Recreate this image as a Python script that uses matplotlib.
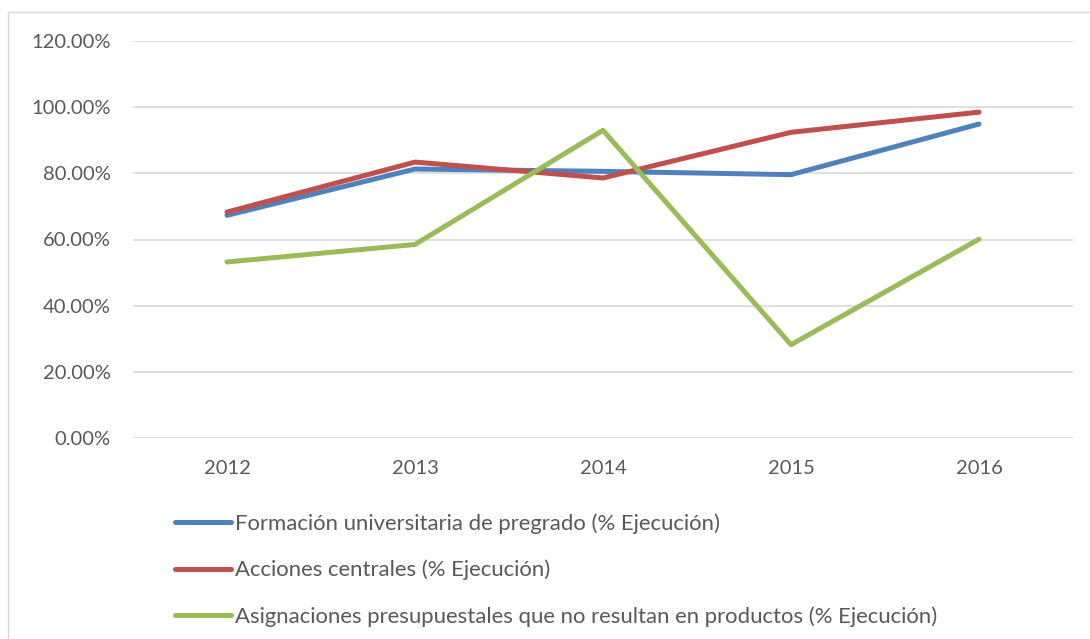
import matplotlib
matplotlib.use("Agg")
import matplotlib.pyplot as plt
from matplotlib.patches import Rectangle
from matplotlib.ticker import FuncFormatter, MultipleLocator

years = ["2012", "2013", "2014", "2015", "2016"]
formacion = [67.3, 81.3, 80.6, 79.6, 94.9]
acciones = [68.3, 83.4, 78.6, 92.4, 98.5]
asignaciones = [53.2, 58.5, 93.0, 28.2, 60.1]

labels = [
    "Formación universitaria de pregrado (% Ejecución)",
    "Acciones centrales (% Ejecución)",
    "Asignaciones presupuestales que no resultan en productos (% Ejecución)",
]
colors = ["#4F81BD", "#C0504D", "#9BBB59"]

plt.rcParams["font.family"] = ["Lato", "DejaVu Sans"]
text_color = "#595959"

W, H = 1090, 639
fig = plt.figure(figsize=(W / 100, H / 100), dpi=100)
fig.patch.set_facecolor("white")

# outer chart border (extends past right/bottom edge)
fig.add_artist(Rectangle((8 / W, -0.1), 1.2, 1.1 - 12 / H,
                         transform=fig.transFigure, fill=False,
                         edgecolor="#D9D9D9", linewidth=1.0))

left, right = 133 / W, 1073 / W
bottom, top = 1 - 438 / H, 1 - 41 / H
ax = fig.add_axes([left, bottom, right - left, top - bottom])

x = [i + 0.5 for i in range(len(years))]
for vals, c, lab in zip([formacion, acciones, asignaciones], colors, labels):
    ax.plot(x, vals, color=c, linewidth=3.6, label=lab,
            solid_capstyle="round", solid_joinstyle="round", zorder=3)

ax.set_xlim(0, len(years))
ax.set_ylim(0, 120)
ax.yaxis.set_major_locator(MultipleLocator(20))
ax.yaxis.set_major_formatter(FuncFormatter(lambda v, p: f"{v:.2f}%"))
ax.set_xticks(x)
ax.set_xticklabels(years)
ax.grid(axis="y", color="#D9D9D9", linewidth=1.2, zorder=0)
for s in ax.spines.values():
    s.set_visible(False)
ax.tick_params(axis="both", length=0, labelsize=14.5, colors=text_color)
ax.tick_params(axis="y", pad=16)
ax.tick_params(axis="x", pad=16)

leg = ax.legend(loc="upper left", bbox_to_anchor=(175 / W, 1 - 513 / H),
                bbox_transform=fig.transFigure, frameon=False,
                fontsize=15.9, handlelength=2.54, handletextpad=0.18,
                labelspacing=1.18, borderpad=0, borderaxespad=0)
for t in leg.get_texts():
    t.set_color(text_color)

fig.savefig("out.png", dpi=100)
